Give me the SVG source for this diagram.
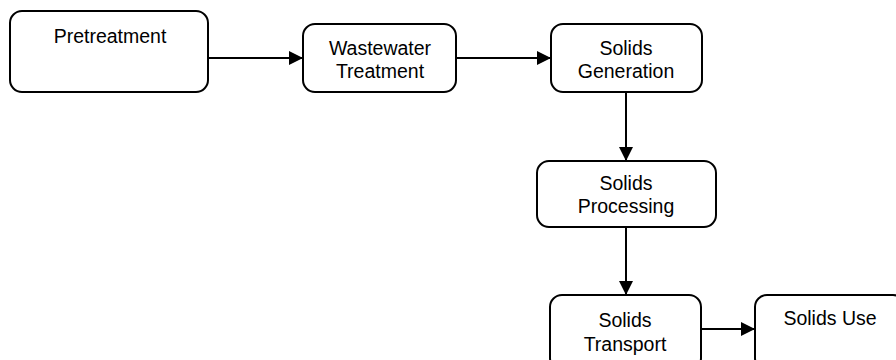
<svg xmlns="http://www.w3.org/2000/svg" width="896" height="360" viewBox="0 0 896 360">
<style>
.box{fill:#fff;stroke:#000;stroke-width:2}
.t{font-family:"Liberation Sans",Arial,sans-serif;font-size:19.5px;fill:#000;text-anchor:middle}
.c{stroke:#000;stroke-width:2;fill:none;marker-end:url(#ah)}
</style>
<defs>
<marker id="ah" markerUnits="userSpaceOnUse" markerWidth="14" markerHeight="14" refX="14" refY="7" orient="auto">
<path d="M0,0 L14,7 L0,14 Z" fill="#000"/>
</marker>
</defs>
<rect width="896" height="360" fill="#fff"/>
<g id="connectors">
<line class="c" x1="208" y1="58" x2="303" y2="58"/>
<line class="c" x1="456" y1="58" x2="551" y2="58"/>
<line class="c" x1="626" y1="92" x2="626" y2="161"/>
<line class="c" x1="626" y1="227" x2="626" y2="295"/>
<line class="c" x1="701" y1="329" x2="755" y2="329"/>
</g>
<g id="pretreatment">
<rect class="box" x="10" y="11" width="198" height="81" rx="12"/>
<text class="t" x="110" y="43">Pretreatment</text>
</g>
<g id="wastewater">
<rect class="box" x="303" y="24" width="153" height="68" rx="12"/>
<text class="t" x="380" y="55">Wastewater</text>
<text class="t" x="380" y="78">Treatment</text>
</g>
<g id="generation">
<rect class="box" x="551" y="24" width="151" height="68" rx="12"/>
<text class="t" x="626" y="55">Solids</text>
<text class="t" x="626" y="78">Generation</text>
</g>
<g id="processing">
<rect class="box" x="537" y="161" width="179" height="66" rx="12"/>
<text class="t" x="626" y="190">Solids</text>
<text class="t" x="626" y="213">Processing</text>
</g>
<g id="transport">
<rect class="box" x="550" y="295" width="151" height="75" rx="12"/>
<text class="t" x="625" y="327">Solids</text>
<text class="t" x="625" y="351">Transport</text>
</g>
<g id="use">
<rect class="box" x="755" y="295" width="150" height="75" rx="12"/>
<text class="t" x="830" y="325">Solids Use</text>
</g>
</svg>
